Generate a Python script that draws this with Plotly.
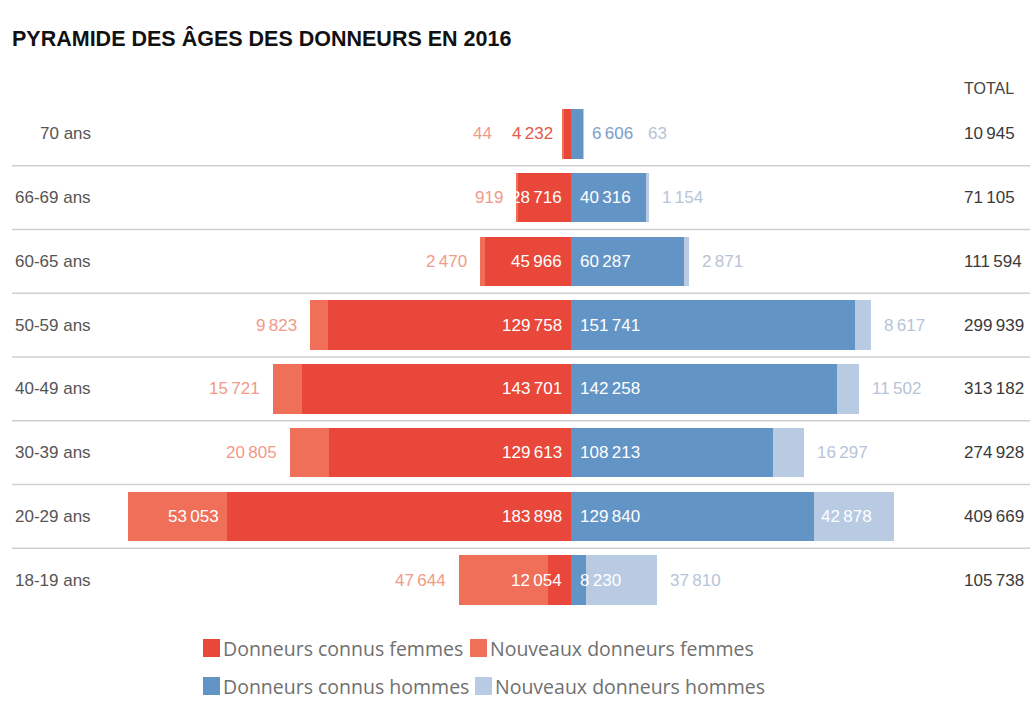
import plotly.graph_objects as go

# ---------------- data ----------------
ages = ["70 ans", "66-69 ans", "60-65 ans", "50-59 ans", "40-49 ans", "30-39 ans", "20-29 ans", "18-19 ans"]
known_f = [4232, 28716, 45966, 129758, 143701, 129613, 183898, 12054]
new_f = [44, 919, 2470, 9823, 15721, 20805, 53053, 47644]
known_m = [6606, 40316, 60287, 151741, 142258, 108213, 129840, 8230]
new_m = [63, 1154, 2871, 8617, 11502, 16297, 42878, 37810]
totals = [10945, 71105, 111594, 299939, 313182, 274928, 409669, 105738]

title_text = "PYRAMIDE DES ÂGES DES DONNEURS EN 2016"
total_header = "TOTAL"
legend_labels = ["Donneurs connus femmes", "Nouveaux donneurs femmes",
                 "Donneurs connus hommes", "Nouveaux donneurs hommes"]

# ---------------- style ----------------
W, H = 1033, 709
L, R, T, B = 12, 3, 102, 97
PW, PH = W - L - R, H - T - B
XMIN, XMAX = -298900, 245450
SCALE = PW / (XMAX - XMIN)  # px per unit

RED = "#E8473A"
SALMON = "#EF6F58"
BLUE = "#6394C6"
LBLUE = "#B9CBE3"
NUMFONT = "Liberation Sans, Arial, sans-serif"
NUMSIZE = 17


def fmt(n):
    return f"{n:,}".replace(",", "\u2009")


def text_w(s):
    return sum((0.556 if c.isdigit() else 0.2) for c in s) * NUMSIZE


def xp(px):
    return (px - L) / PW


def yp(py):
    return (H - B - py) / PH


fig = go.Figure()
series = [
    (known_f, -1, RED, legend_labels[0]),
    (new_f, -1, SALMON, legend_labels[1]),
    (known_m, 1, BLUE, legend_labels[2]),
    (new_m, 1, LBLUE, legend_labels[3]),
]
for vals, sign, col, name in series:
    fig.add_trace(go.Bar(
        y=ages, x=[sign * v for v in vals], orientation="h",
        marker=dict(color=col, line=dict(width=0)), width=0.78,
        name=name, customdata=vals, showlegend=False,
        hovertemplate="%{y}<br>" + name + " : %{customdata:,}<extra></extra>",
    ))

ann = []
shapes = []
for i, age in enumerate(ages):
    # ---- women ----
    kf_t, nf_t = fmt(known_f[i]), fmt(new_f[i])
    kf_px, nf_px = known_f[i] * SCALE, new_f[i] * SCALE
    tot_f_px = kf_px + nf_px
    kf_inside = tot_f_px > text_w(kf_t)
    if kf_inside:
        ann.append(dict(x=0, y=age, text=kf_t, xanchor="right", xshift=-7,
                        font=dict(color="white")))
        kf_in_bar = kf_px > text_w(kf_t) + 12
    else:
        ann.append(dict(x=-known_f[i], y=age, text=kf_t, xanchor="right", xshift=-8,
                        font=dict(color="#E25A4A")))
        kf_in_bar = False
    if kf_in_bar and nf_px > text_w(nf_t) + 12:
        ann.append(dict(x=-known_f[i], y=age, text=nf_t, xanchor="right", xshift=-6,
                        font=dict(color="white")))
    else:
        shift = -11 if kf_inside else -(8 + text_w(kf_t) + 20)
        ann.append(dict(x=-(known_f[i] + new_f[i]), y=age, text=nf_t, xanchor="right",
                        xshift=shift, font=dict(color="#F29A87")))
    # ---- men ----
    km_t, nm_t = fmt(known_m[i]), fmt(new_m[i])
    km_px, nm_px = known_m[i] * SCALE, new_m[i] * SCALE
    tot_m_px = km_px + nm_px
    km_inside = tot_m_px > text_w(km_t)
    if km_inside:
        ann.append(dict(x=0, y=age, text=km_t, xanchor="left", xshift=7,
                        font=dict(color="white")))
        km_in_bar = km_px > text_w(km_t) + 12
    else:
        ann.append(dict(x=known_m[i], y=age, text=km_t, xanchor="left", xshift=7,
                        font=dict(color="#7C9DC9")))
        km_in_bar = False
    if km_in_bar and nm_px > text_w(nm_t) + 12:
        ann.append(dict(x=known_m[i], y=age, text=nm_t, xanchor="left", xshift=5,
                        font=dict(color="white")))
    else:
        shift = 11 if km_inside else (7 + text_w(km_t) + 14)
        ann.append(dict(x=known_m[i] + new_m[i], y=age, text=nm_t, xanchor="left",
                        xshift=shift, font=dict(color="#B7C4D8")))
    # ---- age label & total ----
    ann.append(dict(x=xp(93), xref="paper", y=age, text=age, xanchor="right",
                    font=dict(color="#555555")))
    ann.append(dict(x=xp(962), xref="paper", y=age, text=fmt(totals[i]), xanchor="left",
                    font=dict(color="#3a3a3a")))
    # separator
    if i < len(ages) - 1:
        shapes.append(dict(type="line", xref="paper", yref="y", x0=0, x1=1,
                           y0=i + 0.5, y1=i + 0.5, line=dict(color="#cfcfcf", width=1.5),
                           layer="below"))

for a in ann:
    a.setdefault("xref", "x")
    a["yref"] = "y"
    a["showarrow"] = False
    a["yanchor"] = "middle"
    a["font"] = dict(family=NUMFONT, size=NUMSIZE, **a["font"])

ann.append(dict(x=xp(962), y=yp(88), xref="paper", yref="paper", text=total_header,
                showarrow=False, xanchor="left", yanchor="middle",
                font=dict(family=NUMFONT, size=NUMSIZE - 1, color="#444444")))

# ---- manual legend ----
leg_items = [
    (203, 648, RED, legend_labels[0]),
    (470, 648, SALMON, legend_labels[1]),
    (203, 686, BLUE, legend_labels[2]),
    (475, 686, LBLUE, legend_labels[3]),
]
for x0, yc, col, lab in leg_items:
    shapes.append(dict(type="rect", xref="paper", yref="paper",
                       x0=xp(x0), x1=xp(x0 + 17), y0=yp(yc + 9), y1=yp(yc - 9),
                       fillcolor=col, line=dict(width=0)))
    ann.append(dict(x=xp(x0 + 18), y=yp(yc), xref="paper", yref="paper", text=lab,
                    showarrow=False, xanchor="left", yanchor="middle",
                    font=dict(family="Open Sans, Lato, sans-serif", size=19.5, color="#707070")))

fig.update_layout(
    width=W, height=H,
    margin=dict(l=L, r=R, t=T, b=B),
    paper_bgcolor="white", plot_bgcolor="white",
    barmode="relative", bargap=0,
    title=dict(text="<b>" + title_text + "</b>", x=12 / W, xanchor="left",
               xref="container", y=1 - 38 / H, yanchor="middle",
               font=dict(family="Liberation Sans, Arial, sans-serif",
                         size=21.5, color="#111111")),
    xaxis=dict(range=[XMIN, XMAX], visible=False, fixedrange=True),
    yaxis=dict(type="category", categoryorder="array", categoryarray=ages,
               range=[len(ages) - 0.5, -0.5], visible=False, fixedrange=True),
    annotations=ann, shapes=shapes,
    showlegend=False,
)

fig.write_html("out.html", config={"displayModeBar": False},
               post_script="document.body.style.margin='0';")
